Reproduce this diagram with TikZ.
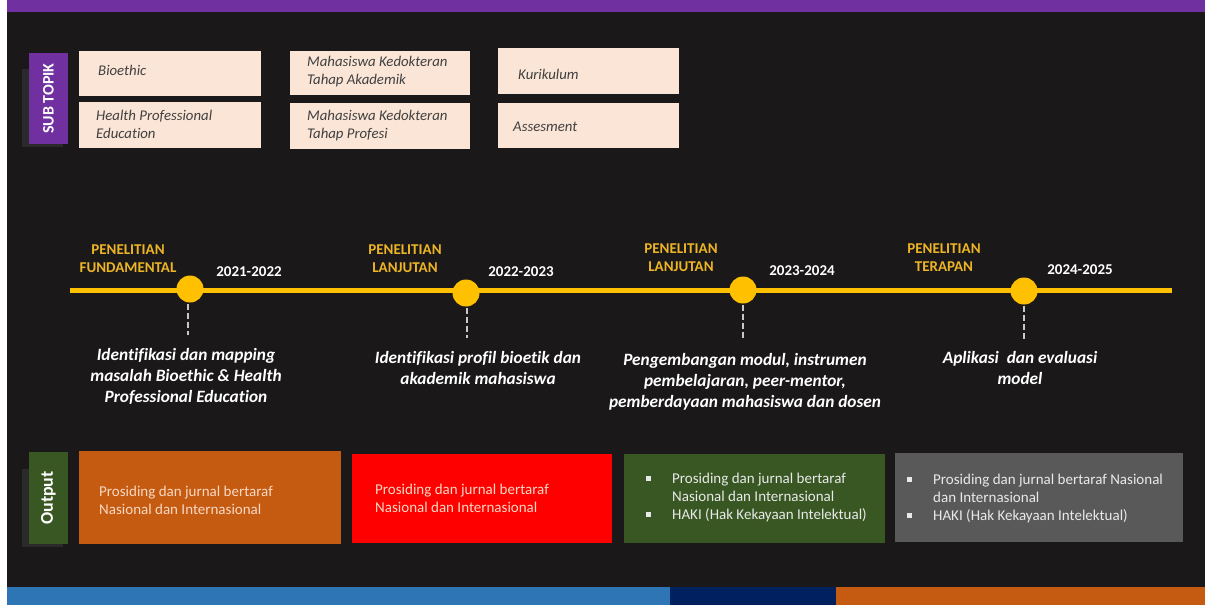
\documentclass[tikz,border=0pt]{standalone}
\usepackage{fontspec}
\setmainfont{Carlito}[Ligatures=NoCommon]
\definecolor{bg}{HTML}{1A1819}
\definecolor{ppl}{HTML}{7030A0}
\definecolor{peach}{HTML}{FBE5D6}
\definecolor{gold}{HTML}{FFC000}
\definecolor{goldtxt}{HTML}{EDB525}
\definecolor{dgreen}{HTML}{385723}
\definecolor{orng}{HTML}{C55A11}
\definecolor{gbox}{HTML}{595959}
\definecolor{shad}{HTML}{2A2A2A}
\definecolor{blu}{HTML}{2E75B6}
\definecolor{navy}{HTML}{002060}
\definecolor{subtxt}{HTML}{404040}
\definecolor{outtxt}{HTML}{F8D9C4}
\definecolor{outtxtw}{HTML}{E9E9E9}
\begin{document}
\begin{tikzpicture}[x=1pt,y=-1pt,
  box/.style={draw=none,inner sep=0pt,outer sep=0pt},
  subbox/.style={box,fill=peach},
  subtext/.style={anchor=west,inner sep=0pt,align=left,text=subtxt,font=\fontsize{14.8}{18}\selectfont\itshape},
  phase/.style={inner sep=0pt,align=center,text=goldtxt,font=\fontsize{15}{18}\selectfont\bfseries},
  year/.style={inner sep=0pt,text=white,font=\fontsize{15}{16}\selectfont\bfseries},
  desc/.style={inner sep=0pt,align=center,text=white,font=\fontsize{17.3}{21}\selectfont\bfseries\itshape},
  dot/.style={circle,fill=gold,minimum size=27pt,inner sep=0pt},
  dashline/.style={draw={rgb,255:red,200;green,200;blue,200},line width=2.5pt,dash pattern=on 6pt off 3pt},
  outtext/.style={anchor=west,inner sep=0pt,align=left,font=\fontsize{15}{18}\selectfont},
  sidelabel/.style={inner sep=0pt,rotate=90,text=white,font=\fontsize{16}{16}\selectfont\bfseries},
]
\useasboundingbox (0,0) rectangle (1205,605);
% background
\fill[white] (0,0) rectangle (1205,605);
\fill[bg] (7,0) rectangle (1205,605);
\fill[ppl] (7,0) rectangle (1205,12);
\fill[blu] (7,587) rectangle (670,605);
\fill[navy] (670,587) rectangle (836,605);
\fill[orng] (836,587) rectangle (1205,605);

% SUB TOPIK label
\fill[shad] (22,69) rectangle (63,147);
\node[box,fill=ppl,minimum width=39pt,minimum height=91pt] (st) at (48.5,98.5) {};
\node[sidelabel] (stt) at (st.center) {SUB TOPIK};

% sub topic boxes
\node[subbox,minimum width=182pt,minimum height=45pt] (b1) at (170,73.5) {};
\node[subbox,minimum width=182pt,minimum height=46pt] (b2) at (170,125) {};
\node[subbox,minimum width=180pt,minimum height=44pt] (b3) at (380,73) {};
\node[subbox,minimum width=180pt,minimum height=46pt] (b4) at (380,126) {};
\node[subbox,minimum width=181pt,minimum height=46pt] (b5) at (588.5,71) {};
\node[subbox,minimum width=181pt,minimum height=45pt] (b6) at (588.5,125.5) {};
\node[subtext] (b1t) at (98,70) {Bioethic};
\node[subtext] (b2t) at (96,124) {Health Professional\\Education};
\node[subtext] (b3t) at (307,72) {Mahasiswa Kedokteran\\Tahap Akademik};
\node[subtext] (b4t) at (307,126) {Mahasiswa Kedokteran\\Tahap Profesi};
\node[subtext] (b5t) at (518,74) {Kurikulum};
\node[subtext] (b6t) at (513,127) {Assesment};

% timeline
\coordinate (tl0) at (70,290);
\coordinate (tl1) at (1172,290);
\draw[gold,line width=5pt] (tl0) -- (tl1);
\node[dot] (c1) at (190,289) {};
\node[dot] (c2) at (466,293) {};
\node[dot] (c3) at (743,290) {};
\node[dot] (c4) at (1024,291) {};
\coordinate (e1) at (188,335);
\coordinate (e2) at (467,338);
\coordinate (e3) at (743,340);
\coordinate (e4) at (1024,340);
\draw[dashline] (c1.south) ++(-2,1) -- (e1);
\draw[dashline] (c2.south) ++(1,1) -- (e2);
\draw[dashline] (c3.south) ++(0,1) -- (e3);
\draw[dashline] (c4.south) ++(0,1) -- (e4);

% phase labels
\node[phase] (p1) at (128,259) {PENELITIAN\\FUNDAMENTAL};
\node[phase] (p2) at (405,258.5) {PENELITIAN\\LANJUTAN};
\node[phase] (p3) at (681,258) {PENELITIAN\\LANJUTAN};
\node[phase] (p4) at (944,258) {PENELITIAN\\TERAPAN};
\node[year] (y1) at (249,272) {2021-2022};
\node[year] (y2) at (521,272) {2022-2023};
\node[year] (y3) at (802,271) {2023-2024};
\node[year] (y4) at (1080,270) {2024-2025};

% descriptions
\node[desc] (d1) at (186,376) {Identifikasi dan mapping\\masalah Bioethic \& Health\\Professional Education};
\node[desc] (d2) at (478,368) {Identifikasi profil bioetik dan\\akademik mahasiswa};
\node[desc] (d3) at (745,382) {Pengembangan modul, instrumen\\pembelajaran, peer-mentor,\\pemberdayaan mahasiswa dan dosen};
\node[desc] (d4) at (1020,368) {Aplikasi\ \ dan evaluasi\\model};

% Output label
\fill[shad] (22,469) rectangle (63,547);
\node[box,fill=dgreen,minimum width=39pt,minimum height=92pt] (ol) at (48.5,498) {};
\node[sidelabel,font=\fontsize{18}{18}\selectfont\bfseries] (olt) at (ol.center) {Output};

% output boxes
\node[box,fill=orng,minimum width=262pt,minimum height=93pt] (o1) at (210,497.5) {};
\node[box,fill=red,minimum width=260pt,minimum height=89pt] (o2) at (482,498.5) {};
\node[box,fill=dgreen,minimum width=261pt,minimum height=89pt] (o3) at (754.5,498.5) {};
\node[box,fill=gbox,minimum width=288pt,minimum height=89pt] (o4) at (1039,497.5) {};
\node[outtext,text=outtxt] (o1t) at (99,500) {Prosiding dan jurnal bertaraf\\Nasional dan Internasional};
\node[outtext,text=outtxt] (o2t) at (375,498) {Prosiding dan jurnal bertaraf\\Nasional dan Internasional};
\node[outtext,text=outtxtw] (o3t) at (646,497) {\makebox[26pt][l]{\raisebox{2.5pt}{\rule{4.5pt}{4.5pt}}}Prosiding dan jurnal bertaraf\\\hspace*{26pt}Nasional dan Internasional\\\makebox[26pt][l]{\raisebox{2.5pt}{\rule{4.5pt}{4.5pt}}}HAKI (Hak Kekayaan Intelektual)};
\node[outtext,text=outtxtw] (o4t) at (907,498) {\makebox[26pt][l]{\raisebox{2.5pt}{\rule{4.5pt}{4.5pt}}}Prosiding dan jurnal bertaraf Nasional\\\hspace*{26pt}dan Internasional\\\makebox[26pt][l]{\raisebox{2.5pt}{\rule{4.5pt}{4.5pt}}}HAKI (Hak Kekayaan Intelektual)};
\end{tikzpicture}
\end{document}
